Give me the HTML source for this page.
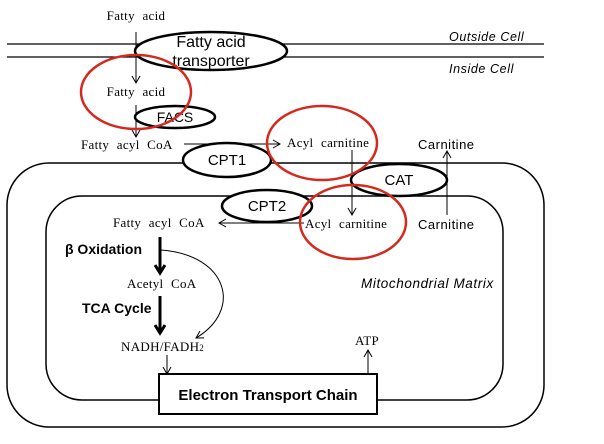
<!DOCTYPE html>
<html><head><meta charset="utf-8"><style>
body{margin:0;background:#fff}
svg{display:block}
.s{font-family:"Liberation Serif",serif;font-size:13px;word-spacing:4px;letter-spacing:0.3px}
.a{font-family:"Liberation Sans",sans-serif}
</style></head><body>
<svg width="604" height="444" viewBox="0 0 604 444" xmlns="http://www.w3.org/2000/svg">
<defs>
<marker id="o" markerWidth="10" markerHeight="10" refX="8" refY="5" orient="auto" markerUnits="userSpaceOnUse"><path d="M1,1 L8,5 L1,9" fill="none" stroke="#000" stroke-width="1"/></marker>
<marker id="b" markerWidth="12" markerHeight="12" refX="6" refY="9" orient="0" markerUnits="userSpaceOnUse"><path d="M1,1 L6,9 L11,1" fill="none" stroke="#000" stroke-width="3"/></marker>
</defs>
<g stroke="#000" fill="none">
<line x1="7" y1="44" x2="544" y2="44" stroke-width="1.2"/>
<line x1="7" y1="57" x2="544" y2="57" stroke-width="1.2"/>
<rect x="7" y="163" width="537" height="264" rx="42" stroke-width="1.5"/>
<rect x="46" y="196" width="457" height="204" rx="36" stroke-width="1.5"/>
<line x1="136" y1="32" x2="136" y2="83" marker-end="url(#o)"/>
<line x1="136" y1="105" x2="136" y2="137" marker-end="url(#o)"/>
<line x1="184" y1="144" x2="280" y2="144" marker-end="url(#o)"/>
<line x1="447" y1="215" x2="447" y2="151" marker-end="url(#o)"/>
<line x1="352" y1="150" x2="352" y2="215" marker-end="url(#o)"/>
<line x1="304" y1="223" x2="219" y2="223" marker-end="url(#o)"/>
<line x1="160" y1="237" x2="160" y2="273" stroke-width="3" marker-end="url(#b)"/>
<line x1="160" y1="296" x2="160" y2="333" stroke-width="3" marker-end="url(#b)"/>
<path d="M161,250 C228,255 243,310 196,338" marker-end="url(#o)"/>
<line x1="167" y1="355" x2="167" y2="374" marker-end="url(#o)"/>
<line x1="368" y1="374" x2="368" y2="350" marker-end="url(#o)"/>
<ellipse cx="211" cy="51" rx="76" ry="19" fill="#fff" stroke-width="2.5"/>
<ellipse cx="175" cy="117" rx="40" ry="11" fill="#fff" stroke-width="2.5"/>
<ellipse cx="227" cy="160" rx="44" ry="17" fill="#fff" stroke-width="2.5"/>
<ellipse cx="399" cy="180" rx="48" ry="16" fill="#fff" stroke-width="2.5"/>
<ellipse cx="267" cy="206" rx="45" ry="16" fill="#fff" stroke-width="2.5"/>
<rect x="159" y="374" width="218" height="40" fill="#fff" stroke-width="2"/>
</g>
<g class="s" fill="#000">
<text x="136" y="20" text-anchor="middle">Fatty acid</text>
<text x="136" y="96" text-anchor="middle">Fatty acid</text>
<text x="81" y="149">Fatty acyl CoA</text>
<text x="287" y="147">Acyl carnitine</text>
<text x="113" y="227">Fatty acyl CoA</text>
<text x="305" y="228">Acyl carnitine</text>
<text x="127" y="288">Acetyl CoA</text>
<text x="121" y="351">NADH/FADH<tspan font-size="9">2</tspan></text>
<text x="355" y="345">ATP</text>
</g>
<g class="a" fill="#000">
<text x="211" y="47" text-anchor="middle" font-size="16">Fatty acid</text>
<text x="211" y="66" text-anchor="middle" font-size="16">transporter</text>
<text x="175" y="122" text-anchor="middle" font-size="14">FACS</text>
<text x="227" y="165" text-anchor="middle" font-size="15">CPT1</text>
<text x="399" y="185" text-anchor="middle" font-size="15">CAT</text>
<text x="267" y="211" text-anchor="middle" font-size="15">CPT2</text>
<text x="418" y="149" font-size="13" letter-spacing="0.5">Carnitine</text>
<text x="418" y="229" font-size="13" letter-spacing="0.5">Carnitine</text>
<text x="449" y="41" font-size="12.5" font-style="italic" letter-spacing="0.6">Outside Cell</text>
<text x="449" y="73" font-size="12.5" font-style="italic" letter-spacing="0.6">Inside Cell</text>
<text x="361" y="288" font-size="13.5" font-style="italic" letter-spacing="0.6">Mitochondrial Matrix</text>
<text x="65" y="254" font-size="14" font-weight="bold">β Oxidation</text>
<text x="82" y="313" font-size="14" font-weight="bold">TCA Cycle</text>
<text x="268" y="400" text-anchor="middle" font-size="15" font-weight="bold">Electron Transport Chain</text>
</g>
<g stroke="#d42a1e" fill="none" stroke-width="2.5">
<ellipse cx="136" cy="92" rx="55" ry="37"/>
<ellipse cx="322" cy="143" rx="55" ry="37"/>
<ellipse cx="353" cy="222" rx="53" ry="37"/>
</g>
</svg>
</body></html>
